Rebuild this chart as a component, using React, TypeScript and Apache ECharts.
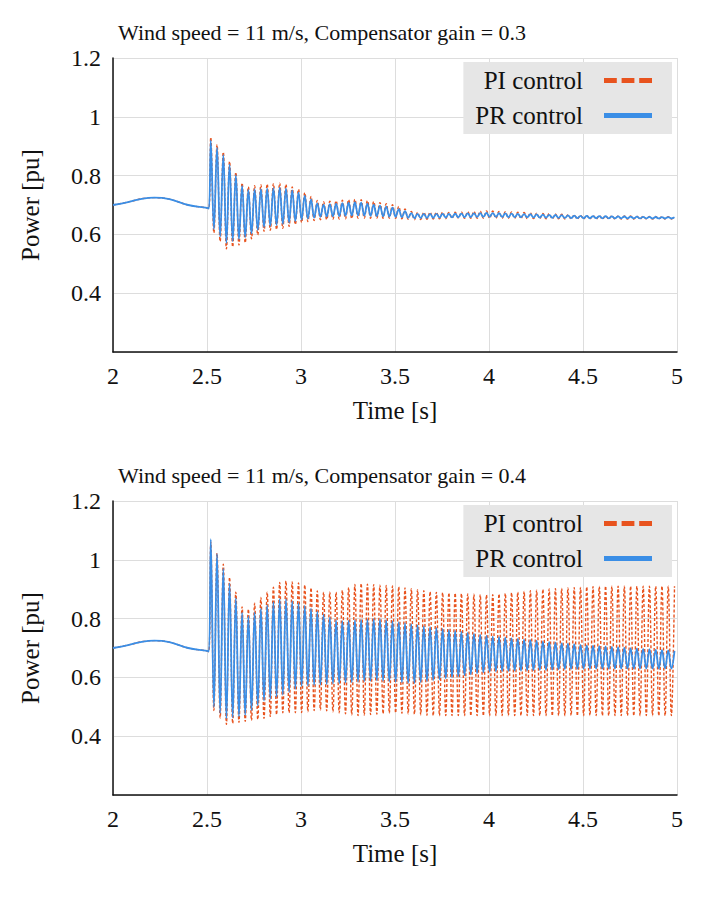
import { useEffect, useRef } from "react";
import * as echarts from "echarts";

// pre-disturbance trace (same for every case)
const preTimes = [2.0, 2.08, 2.16, 2.22, 2.3, 2.4, 2.5, 2.51];
const preValues = [0.70, 0.71, 0.722, 0.725, 0.72, 0.70, 0.69, 0.688];

// oscillation frequency read from peak spacing [Hz]
const oscFreq = 30;

// envelopes: [time, upper, lower]
const envPI1 = [
  [2.52, 0.93, 0.62], [2.6, 0.87, 0.55], [2.7, 0.76, 0.57], [2.8, 0.77, 0.61],
  [2.9, 0.775, 0.62], [3.0, 0.75, 0.64], [3.1, 0.71, 0.65], [3.3, 0.72, 0.655],
  [3.5, 0.70, 0.655], [3.6, 0.675, 0.65], [3.8, 0.675, 0.655], [4.0, 0.68, 0.655],
  [4.5, 0.665, 0.652], [5.0, 0.66, 0.652],
];
const envPR1 = [
  [2.52, 0.92, 0.63], [2.6, 0.86, 0.57], [2.7, 0.75, 0.59], [2.8, 0.755, 0.625],
  [2.9, 0.76, 0.635], [3.0, 0.74, 0.65], [3.1, 0.70, 0.66], [3.3, 0.71, 0.665],
  [3.5, 0.69, 0.66], [3.6, 0.67, 0.655], [3.8, 0.67, 0.658], [4.0, 0.673, 0.66],
  [4.5, 0.663, 0.655], [5.0, 0.658, 0.654],
];
const envPI2 = [
  [2.52, 1.06, 0.5], [2.6, 0.97, 0.44], [2.7, 0.82, 0.45], [2.8, 0.88, 0.46],
  [2.9, 0.93, 0.48], [3.0, 0.92, 0.48], [3.1, 0.89, 0.49], [3.2, 0.89, 0.48],
  [3.3, 0.92, 0.47], [3.5, 0.91, 0.48], [3.7, 0.89, 0.47], [4.0, 0.88, 0.47],
  [4.3, 0.90, 0.47], [4.6, 0.91, 0.47], [5.0, 0.91, 0.47],
];
const envPR2 = [
  [2.52, 1.07, 0.51], [2.6, 0.95, 0.46], [2.7, 0.80, 0.47], [2.8, 0.84, 0.52],
  [2.9, 0.87, 0.54], [3.0, 0.85, 0.57], [3.2, 0.79, 0.58], [3.4, 0.80, 0.59],
  [3.6, 0.78, 0.58], [3.8, 0.76, 0.60], [4.0, 0.74, 0.62], [4.5, 0.71, 0.63],
  [5.0, 0.69, 0.63],
];

const titles = [
  "Wind speed = 11 m/s, Compensator gain = 0.3",
  "Wind speed = 11 m/s, Compensator gain = 0.4",
];

function envAt(env: number[][], t: number) {
  for (let i = 0; i < env.length - 1; i++) {
    const [t0, u0, l0] = env[i];
    const [t1, u1, l1] = env[i + 1];
    if (t >= t0 && t <= t1) {
      const f = (t - t0) / (t1 - t0);
      return [u0 + (u1 - u0) * f, l0 + (l1 - l0) * f];
    }
  }
  const last = env[env.length - 1];
  return [last[1], last[2]];
}

// alternate between upper and lower envelope at each half period
function buildTrace(env: number[][]) {
  const pts: number[][] = preTimes.map((t, i) => [t, preValues[i]]);
  const half = 1 / oscFreq / 2;
  let k = 0;
  for (let t = env[0][0]; t <= 5.0001; t += half, k++) {
    const [u, l] = envAt(env, t);
    pts.push([+t.toFixed(4), k % 2 === 0 ? u : l]);
  }
  return pts;
}

const font = "'Liberation Serif', 'Times New Roman', serif";
const txt = (size: number) => ({ fontFamily: font, fontSize: size, fontWeight: "normal" as const, color: "#111" });

export default function App() {
  const ref = useRef<HTMLDivElement>(null);

  useEffect(() => {
    document.body.style.margin = "0";
    if (!ref.current) return;
    const chart = echarts.init(ref.current, undefined, { renderer: "svg" });
    const tops = [58, 501];
    const grids = tops.map((top) => ({ left: 113, top, width: 564, height: 294 }));
    const xAxes = tops.map((_, i) => ({
      type: "value", gridIndex: i, min: 2, max: 5, interval: 0.5,
      name: "Time [s]", nameLocation: "middle", nameGap: 46,
      nameTextStyle: txt(25),
      axisLine: { lineStyle: { color: "#111", width: 1.5 } },
      axisTick: { show: false },
      axisLabel: { ...txt(24), margin: 12 },
      splitLine: { show: true, lineStyle: { color: "#ddd" } },
    }));
    const yAxes = tops.map((_, i) => ({
      type: "value", gridIndex: i, min: 0.2, max: 1.2, interval: 0.2,
      name: "Power [pu]", nameLocation: "middle", nameGap: 70,
      nameTextStyle: txt(25),
      axisLine: { show: true, lineStyle: { color: "#111", width: 1.5 } },
      axisTick: { show: false },
      axisLabel: {
        ...txt(24), margin: 12,
        formatter: (v: number) => (v < 0.3 ? "" : String(+v.toFixed(1))),
      },
      splitLine: { show: true, lineStyle: { color: "#ddd" } },
    }));
    const envs = [[envPI1, envPR1], [envPI2, envPR2]];
    const series: any[] = [];
    envs.forEach(([pi, pr], i) => {
      series.push({
        name: "PI control", type: "line", xAxisIndex: i, yAxisIndex: i,
        data: buildTrace(pi), showSymbol: false, smooth: 0.4,
        lineStyle: { color: "#e8531e", width: 1.4, type: [3, 2] },
        itemStyle: { color: "#e8531e" },
      });
      series.push({
        name: "PR control", type: "line", xAxisIndex: i, yAxisIndex: i,
        data: buildTrace(pr), showSymbol: false, smooth: 0.4,
        lineStyle: { color: "#3a8ee6", width: 1.8 },
        itemStyle: { color: "#3a8ee6" },
      });
    });
    const legends = tops.map((top) => ({
      data: [
        { name: "PI control", icon: "path://M0,0h8v3h-8z M11,0h8v3h-8z M22,0h8v3h-8z" },
        { name: "PR control", icon: "rect" },
      ],
      orient: "vertical", right: 39, top: top + 4, align: "right",
      backgroundColor: "#e6e6e6", padding: [6, 20, 6, 12], itemGap: 10,
      itemWidth: 48, itemHeight: 5,
      textStyle: { ...txt(25), padding: [0, 16, 0, 0] },
    }));
    chart.setOption({
      animation: false,
      title: tops.map((top, i) => ({
        text: titles[i], left: 113, top: top - 42,
        textStyle: txt(22),
      })),
      grid: grids, xAxis: xAxes, yAxis: yAxes, legend: legends, series,
    });
    return () => chart.dispose();
  }, []);

  return <div ref={ref} style={{ width: 711, height: 900 }} />;
}
